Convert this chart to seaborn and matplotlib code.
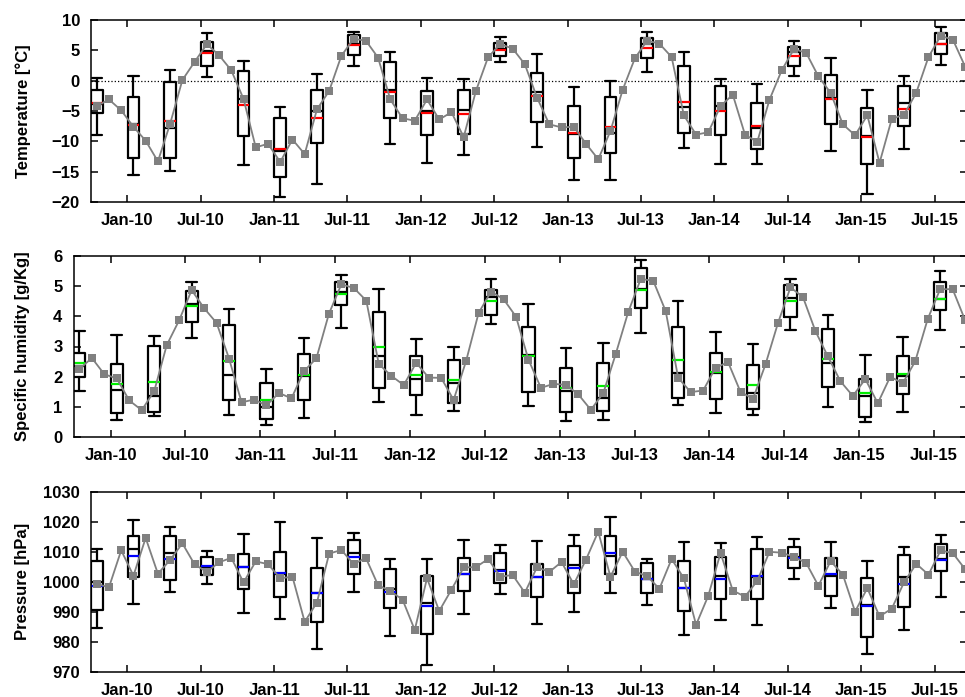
import numpy as np
import pandas as pd
import matplotlib
matplotlib.use('Agg')
import matplotlib.pyplot as plt
import seaborn as sns

# ── monthly means, Oct-2009 .. Sep-2015 ──────────────────────────
temp_monthly = [-4.2, -3.1, -4.9,
                -7.6, -9.9, -13.3, -7.1, 0.1, 3.1, 6.0, 4.2, 1.7, -3.0, -11.0, -10.4,
                -13.4, -9.7, -12.1, -4.75, -1.7, 4.1, 6.9, 6.6, 3.8, -3.1, -6.2, -6.6,
                -3.1, -6.4, -5.2, -9.3, -1.7, 3.9, 6.0, 5.3, 2.7, -2.8, -7.2, -7.7,
                -7.6, -10.4, -12.95, -8.3, -1.5, 3.7, 6.6, 6.1, 3.9, -5.7, -8.9, -8.5,
                -4.2, -2.3, -8.9, -10.1, -3.15, 1.7, 5.2, 4.6, 0.7, -2.0, -7.2, -9.0,
                -5.7, -13.55, -6.3, -5.6, -2.0, 3.9, 7.4, 6.75, 2.3]
hum_monthly = [2.25, 2.62, 2.08,
               1.94, 1.21, 0.89, 1.52, 3.04, 3.87, 4.87, 4.27, 3.78, 2.6, 1.15, 1.24,
               1.05, 1.46, 1.28, 2.18, 2.61, 4.08, 5.06, 4.94, 4.52, 2.42, 2.03, 1.72,
               2.46, 1.97, 1.96, 1.23, 2.52, 4.11, 4.82, 4.57, 3.99, 2.56, 1.63, 1.76,
               1.73, 1.41, 0.9, 1.46, 2.76, 4.15, 5.24, 5.18, 4.17, 1.96, 1.49, 1.54,
               2.3, 2.48, 1.49, 1.27, 2.41, 3.78, 4.96, 4.64, 3.51, 2.67, 1.85, 1.36,
               1.92, 1.12, 2.0, 1.78, 2.51, 3.91, 4.9, 4.9, 3.87]
pres_monthly = [999.3, 998.2, 1010.5,
                1002.05, 1014.6, 1002.7, 1007.3, 1012.8, 1005.8, 1003.3, 1006.5, 1008.0, 999.8, 1006.8, 1005.9,
                1001.2, 1001.7, 986.7, 993.1, 1009.4, 1010.6, 1005.9, 1008.0, 998.9, 996.9, 994.1, 984.0,
                1001.2, 990.3, 997.4, 1004.8, 1004.9, 1007.6, 1001.7, 1002.3, 996.4, 1004.9, 1003.3, 1006.6,
                999.2, 1007.4, 1016.7, 1001.7, 1010.0, 1003.4, 1001.9, 997.7, 1007.6, 1001.2, 985.7, 995.4,
                1009.6, 997.1, 995.1, 1000.3, 1010.0, 1009.7, 1008.3, 1006.3, 998.7, 1006.9, 1002.4, 990.1,
                997.9, 988.5, 991.1, 999.8, 1006.0, 1002.4, 1010.5, 1009.5, 1004.2]

# ── seasonal box statistics (Oct-09, Jan-10, Apr-10, Jul-10, ...) ─
temp_whishi = [0.4, 0.75, 1.7, 7.8, 3.2, -4.4, 1.1, 8.1, 4.8, 0.5, 0.2, 7.25,
               4.4, -1.1, 0.0, 8.1, 4.8, 0.2, -0.6, 6.6, 3.8, -1.5, 0.7, 8.8]
temp_q3 = [-1.5, -2.7, -0.3, 6.3, 1.6, -6.2, -1.6, 7.6, 3.1, -1.7, -1.6, 6.2,
           1.2, -4.2, -2.7, 7.1, 2.35, -0.8, -3.65, 5.5, 1.0, -4.5, -0.9, 7.85]
temp_med = [-3.9, -7.2, -7.8, 4.9, -3.1, -11.6, -5.0, 6.0, -1.6, -5.0, -4.8, 5.3,
            -1.8, -8.8, -8.6, 6.0, -4.4, -4.1, -7.8, 4.8, -2.9, -9.2, -3.65, 6.0]
temp_mean = [-3.6, -7.3, -6.7, 4.5, -4.0, -11.2, -6.2, 5.8, -1.85, -5.4, -5.5, 5.1,
             -2.5, -8.55, -7.7, 5.4, -3.5, -5.0, -7.4, 4.1, -3.0, -9.3, -4.6, 6.1]
temp_q1 = [-5.4, -12.7, -12.7, 2.4, -9.1, -15.9, -10.25, 4.2, -6.2, -8.9, -8.8, 4.1,
           -6.8, -12.7, -11.85, 3.7, -8.55, -8.9, -11.2, 2.4, -7.2, -13.7, -7.4, 4.4]
temp_whislo = [-8.9, -15.5, -14.9, 0.6, -13.9, -19.2, -17.0, 2.4, -10.4, -13.6, -12.3, 3.0,
               -11.0, -16.4, -16.4, 1.4, -11.1, -13.7, -13.8, 0.8, -11.6, -18.6, -11.2, 2.5]

hum_whishi = [3.5, 3.37, 3.35, 5.15, 4.23, 2.26, 3.29, 5.37, 4.92, 3.24, 2.98, 5.25,
              4.4, 2.96, 3.1, 5.88, 4.51, 3.49, 3.07, 5.23, 4.03, 2.71, 3.32, 5.5]
hum_q3 = [2.8, 2.41, 3.01, 4.83, 3.72, 1.79, 2.76, 5.13, 4.15, 2.7, 2.56, 4.87,
          3.65, 2.28, 2.44, 5.59, 3.63, 2.79, 2.38, 5.03, 3.58, 1.92, 2.7, 5.15]
hum_med = [2.36, 1.55, 1.37, 4.41, 2.04, 1.0, 2.03, 4.8, 2.68, 1.93, 1.79, 4.65,
           2.72, 1.51, 1.3, 4.9, 2.13, 2.11, 1.45, 4.61, 2.46, 1.37, 2.03, 4.59]
hum_mean = [2.46, 1.75, 1.82, 4.34, 2.51, 1.22, 2.05, 4.73, 2.98, 2.06, 1.89, 4.52,
            2.7, 1.63, 1.7, 4.87, 2.54, 2.14, 1.74, 4.51, 2.59, 1.46, 2.1, 4.57]
hum_q1 = [1.98, 0.79, 0.84, 3.82, 1.21, 0.61, 1.23, 4.36, 1.62, 1.38, 1.12, 4.06,
          1.48, 0.82, 0.85, 4.28, 1.28, 1.25, 0.94, 3.97, 1.66, 0.65, 1.41, 4.21]
hum_whislo = [1.53, 0.55, 0.71, 3.27, 0.74, 0.41, 0.62, 3.61, 1.16, 0.72, 0.86, 3.73,
              1.02, 0.52, 0.58, 3.44, 1.07, 0.79, 0.74, 3.55, 0.99, 0.5, 0.83, 3.56]

pres_whishi = [1010.8, 1020.5, 1018.35, 1010.4, 1016.0, 1019.8, 1014.6, 1016.1, 1007.6, 1007.5, 1013.8, 1012.3,
               1013.6, 1015.7, 1021.6, 1007.7, 1013.1, 1012.8, 1015.0, 1014.4, 1013.4, 1007.0, 1011.6, 1015.7]
pres_q3 = [1007.0, 1015.4, 1015.4, 1008.4, 1009.4, 1009.9, 1004.5, 1013.8, 1004.2, 1001.9, 1008.0, 1009.7,
           1005.8, 1011.9, 1015.4, 1006.4, 1006.9, 1008.4, 1010.8, 1011.6, 1008.1, 1001.4, 1008.8, 1012.6]
pres_med = [999.8, 1010.9, 1009.6, 1004.9, 1005.0, 1002.7, 996.4, 1009.7, 997.6, 992.8, 1002.6, 1003.8,
            1001.7, 1005.5, 1008.5, 1001.1, 998.1, 1001.9, 1001.5, 1008.4, 1001.8, 992.4, 1001.6, 1007.6]
pres_mean = [998.6, 1008.7, 1007.5, 1005.3, 1004.8, 1002.9, 996.4, 1008.3, 996.7, 992.0, 1002.5, 1003.7,
             1001.6, 1004.5, 1009.7, 1001.0, 997.9, 1000.9, 1001.8, 1007.9, 1002.6, 992.1, 999.3, 1007.3]
pres_q1 = [990.5, 1001.5, 1000.5, 1002.2, 997.6, 995.1, 986.7, 1002.5, 991.3, 982.6, 996.9, 999.5,
           995.1, 996.4, 1002.7, 996.3, 990.2, 994.2, 994.2, 1004.5, 995.4, 981.6, 991.6, 1003.6]
pres_whislo = [984.75, 992.7, 996.6, 999.2, 989.6, 987.5, 977.65, 996.7, 981.9, 972.3, 989.3, 996.0,
               986.0, 990.1, 996.4, 992.3, 982.2, 987.3, 985.5, 1001.05, 991.4, 976.1, 984.0, 995.1]

GRAY = '#808080'

sns.set_style('ticks', {'axes.edgecolor': 'black', 'text.color': 'black',
                        'xtick.color': 'black', 'ytick.color': 'black',
                        'axes.labelcolor': 'black'})
plt.rcParams['font.family'] = ['Liberation Sans', 'DejaVu Sans']
plt.rcParams['font.weight'] = 'bold'
plt.rcParams['axes.labelweight'] = 'bold'
plt.rcParams['axes.linewidth'] = 1.1


def month_pos(d):
    # months since Jan-2010, centred in the month
    return (d.year - 2010) * 12 + d.month - 1 + 0.5


months = pd.date_range('2009-10-01', '2015-09-01', freq='MS')
mx = np.array([month_pos(d) for d in months])
seasons = pd.date_range('2009-10-01', '2015-07-01', freq='3MS')
sx = np.array([month_pos(d) for d in seasons])
tick_dates = pd.date_range('2010-01-01', '2015-07-01', freq='6MS')
tick_x = [(d.year - 2010) * 12 + d.month - 1 for d in tick_dates]
tick_lab = [d.strftime('%b-%y') for d in tick_dates]

W, H = 965, 697
fig = plt.figure(figsize=(W / 100, H / 100), dpi=100)


def panel(left, top, bottom, monthly, lo, q1, med, mean, q3, hi,
          mean_color, ylim, yticks, ylabel):
    right = 967
    ax = fig.add_axes([left / W, 1 - bottom / H, (right - left) / W, (bottom - top) / H])
    stats = [dict(whislo=a, q1=b, med=c, mean=d, q3=e, whishi=f, fliers=[])
             for a, b, c, d, e, f in zip(lo, q1, med, mean, q3, hi)]
    lw = 1.6
    ax.bxp(stats, positions=sx, widths=0.97, capwidths=0.85,
           showmeans=True, meanline=True, showfliers=False, manage_ticks=False,
           boxprops=dict(color='black', linewidth=lw),
           whiskerprops=dict(color='black', linewidth=lw),
           capprops=dict(color='black', linewidth=lw),
           medianprops=dict(color='black', linewidth=lw),
           meanprops=dict(color=mean_color, linewidth=lw, linestyle='-'))
    sns.lineplot(x=mx, y=monthly, ax=ax, color=GRAY, marker='s', markersize=5.3,
                 markeredgewidth=0, linewidth=1.3, zorder=5)
    ax.set_xlim(-2.97, 68.65)
    ax.set_ylim(*ylim)
    ax.set_yticks(yticks)
    ax.set_xticks(tick_x)
    ax.set_xticklabels(tick_lab)
    ax.tick_params(direction='in', top=True, right=True, length=5, width=1.1,
                   labelsize=12, pad=8, colors='black')
    ax.set_xlabel('')
    ax.set_ylabel(ylabel, fontsize=12, fontweight='bold', va='center')
    ax.yaxis.set_label_coords((23 - left) / (right - left), 0.5)
    return ax


ax1 = panel(91, 20, 202, temp_monthly, temp_whislo, temp_q1, temp_med, temp_mean,
            temp_q3, temp_whishi, '#ff0000', (-20, 10), range(-20, 11, 5),
            'Temperature [°C]')
ax1.axhline(0, color='black', linestyle=':', linewidth=0.9, zorder=1)

panel(73.5, 256, 437, hum_monthly, hum_whislo, hum_q1, hum_med, hum_mean,
      hum_q3, hum_whishi, '#00ee00', (0, 6), range(0, 7),
      'Specific humidity [g/Kg]')

panel(91, 491.7, 672, pres_monthly, pres_whislo, pres_q1, pres_med, pres_mean,
      pres_q3, pres_whishi, '#0000ff', (970, 1030), range(970, 1031, 10),
      'Pressure [hPa]')

plt.savefig('out.png', dpi=100)
plt.close()
